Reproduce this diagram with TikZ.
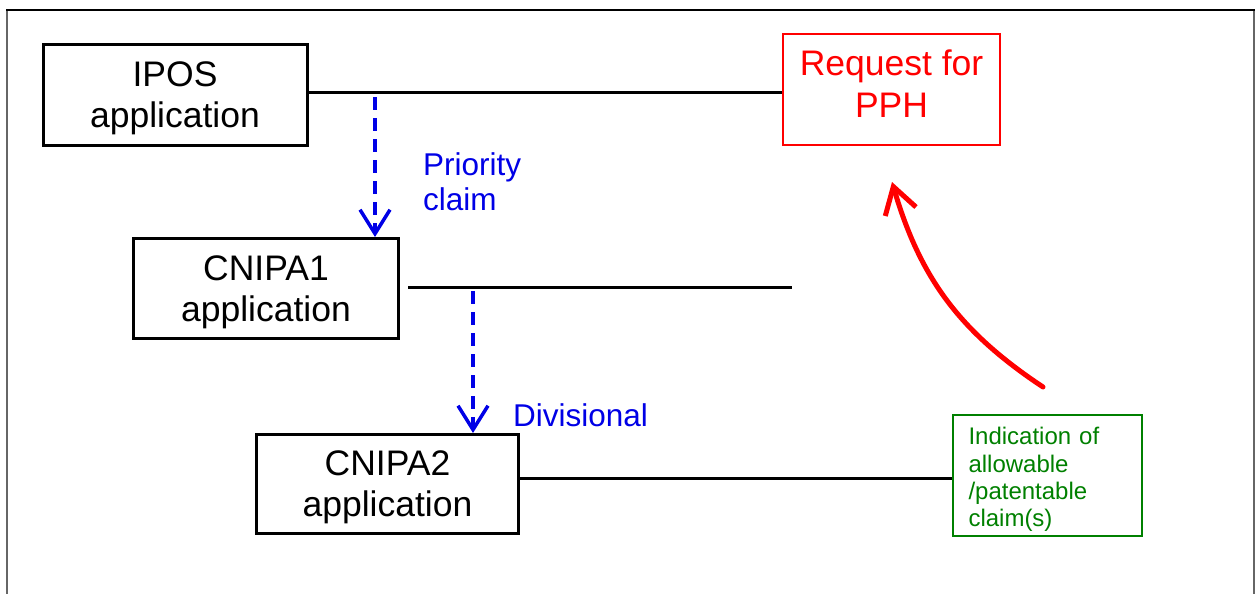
\documentclass[tikz,border=0pt]{standalone}
\usepackage{fontspec}
\setmainfont{Liberation Sans}
\usetikzlibrary{arrows.meta}
\definecolor{pptgreen}{RGB}{0,128,0}
\definecolor{pptblue}{RGB}{0,0,230}
\begin{document}
\begin{tikzpicture}[x=1pt,y=-1pt,
  appbox/.style={draw=black, line width=3pt, minimum height=100pt, inner sep=0pt,
    align=center, text depth=0pt, font=\fontsize{35.5}{41}\selectfont},
  reqbox/.style={draw=red, text=red, line width=2pt, inner sep=0pt, align=center,
    text depth=11pt, font=\fontsize{35.5}{42}\selectfont},
  indbox/.style={draw=pptgreen, text=pptgreen, line width=2pt, inner sep=0pt, align=left,
    text width=157pt, text depth=77.5pt, font=\fontsize{24}{27.3}\selectfont},
  link/.style={line width=3pt},
  dasharrow/.style={draw=pptblue, line width=3.5pt, dash pattern=on 13pt off 8pt,
    -{Straight Barb[length=24pt,width=30pt]}},
  bluelabel/.style={text=pptblue, inner sep=0pt, align=left, font=\fontsize{31.5}{35}\selectfont},
  redarrow/.style={draw=red, line width=5pt, line cap=round,
    -{Straight Barb[length=26pt,width=32pt]}},
  frametop/.style={line width=2pt},
  frameside/.style={line width=1.5pt, black!60}
]
\useasboundingbox (0,0) rectangle (1255,594);
% outer frame
\draw[frameside] (7,594) -- (7,10);
\draw[frameside] (1254,10) -- (1254,594);
\draw[frametop] (6,10) -- (1255,10);

% boxes
\node[appbox, minimum width=264pt] (ipos) at (175,95) {IPOS\\application};
\node[appbox, minimum width=265pt] (cn1) at (266,288.5) {CNIPA1\\application};
\node[appbox, minimum width=262pt, minimum height=99pt] (cn2) at (387.5,484) {CNIPA2\\application};
\node[reqbox, minimum width=217pt, minimum height=111pt] (req) at (891.5,89.5) {Request for\\PPH};
\node[indbox, minimum width=189pt, minimum height=121pt] (ind) at (1047,475)
  {Indication of\\allowable\\/patentable\\claim(s)};

% horizontal connectors
\coordinate (l1a) at (308,92);
\draw[link] (l1a) -- (l1a -| req.west);
\coordinate (l2a) at (408,287);
\coordinate (l2b) at (792,287);
\draw[link] (l2a) -- (l2b);
\coordinate (l3a) at (520,478);
\draw[link] (l3a) -- (l3a -| ind.west);

% dashed arrows
\coordinate (d1s) at (375,97);
\draw[dasharrow] (d1s) -- (d1s |- cn1.north);
\coordinate (d2s) at (473,291);
\draw[dasharrow] (d2s) -- (d2s |- cn2.north);

% labels
\node[bluelabel, anchor=north west] (prio) at (423,152) {Priority\\claim};
\node[bluelabel, anchor=base west] (div) at (513,426) {Divisional};

% red curved arrow
\coordinate (ra) at (1043,387);
\coordinate (rb) at (892,182);
\draw[redarrow] (ra) .. controls (960,332) and (920,278) .. (rb);
\end{tikzpicture}
\end{document}
